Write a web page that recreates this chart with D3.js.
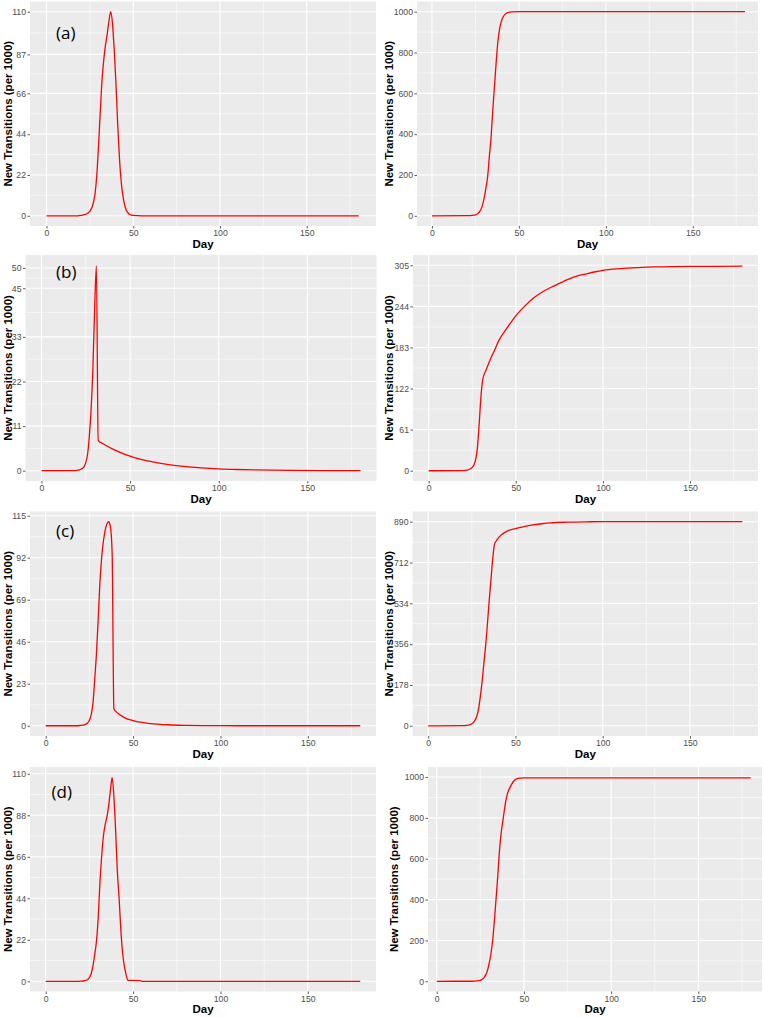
<!DOCTYPE html>
<html>
<head>
<meta charset="utf-8">
<script src="https://cdn.jsdelivr.net/npm/d3@7"></script>
<style>
  html, body { margin: 0; padding: 0; background: #fff; }
  svg { display: block; }
</style>
</head>
<body>
<svg id="chart" width="764" height="1017"></svg>
<script>
// ---------------- DATA ----------------
const xTicks = [0, 50, 100, 150];
const xMinor = [25, 75, 125, 175];
const xTitle = "Day";
const yTitle = "New Transitions (per 1000)";
const panelLabels = ["(a)", "(b)", "(c)", "(d)"];

// (a) new transitions per day
const aNewDays = [0, 18, 20, 22, 24, 25, 26, 27, 28, 29, 30, 31, 32, 33, 34, 35, 36, 37, 38, 39, 40, 41, 42, 43, 44, 45, 46, 47, 48, 50, 55, 180];
const aNewVals = [0, 0, 0.2, 0.6, 1.5, 2.5, 4, 7, 12, 22, 38, 56, 73, 84, 92, 98, 105, 110, 104, 90, 72, 50, 32, 19, 11, 6, 3, 1.5, 0.7, 0.2, 0, 0];
const aNewTicks = [0, 22, 44, 66, 87, 110];
// (a) cumulative
const aCumDays = [0, 20, 22, 24, 25, 26, 27, 28, 29, 30, 31, 32, 33, 34, 35, 36, 37, 38, 39, 40, 41, 42, 43, 44, 46, 50, 180];
const aCumVals = [0, 0.5, 1, 3, 5, 9, 16, 28, 50, 85, 135, 190, 290, 385, 520, 640, 760, 860, 920, 955, 975, 987, 993, 997, 999, 1000, 1000];
const aCumTicks = [0, 200, 400, 600, 800, 1000];

// (b)
const bNewDays = [0, 18, 20, 22, 24, 25, 26, 27, 28, 29, 30, 31, 32, 35, 40, 45, 50, 55, 60, 70, 80, 90, 100, 110, 120, 140, 160, 180];
const bNewVals = [0, 0, 0.1, 0.3, 1, 2, 4, 8.5, 15, 25, 40, 50.5, 7.5, 6.6, 5.4, 4.4, 3.6, 2.9, 2.4, 1.6, 1.05, 0.7, 0.45, 0.3, 0.2, 0.08, 0.03, 0.01];
const bNewTicks = [0, 11, 22, 33, 45, 50];
const bCumDays = [0, 20, 22, 24, 25, 26, 27, 28, 29, 30, 31, 33, 35, 38, 40, 45, 50, 55, 60, 65, 70, 75, 80, 85, 90, 95, 100, 110, 120, 130, 140, 150, 165, 180];
const bCumVals = [0, 0.3, 1, 3, 5, 9, 17, 35, 70, 110, 135, 150, 163, 180, 192, 212, 230, 244, 256, 265, 272, 278, 284, 289, 292, 295, 297.5, 300, 301.5, 302.5, 303, 303.3, 303.5, 303.6];
const bCumTicks = [0, 61, 122, 183, 244, 305];

// (c)
const cNewDays = [0, 18, 20, 22, 24, 25, 26, 27, 28, 29, 30, 31, 32, 33, 34, 35, 36, 37, 38, 39, 40, 42, 45, 50, 55, 60, 70, 80, 90, 100, 120, 180];
const cNewVals = [0, 0, 0.2, 0.5, 1.5, 3, 6, 12, 25, 39, 58, 78, 92, 101, 107, 110.5, 111.7, 109, 95, 9.3, 8, 6.3, 4.5, 2.8, 1.8, 1.2, 0.55, 0.25, 0.1, 0.05, 0.01, 0];
const cNewTicks = [0, 23, 46, 69, 92, 115];
const cCumDays = [0, 20, 22, 24, 25, 26, 27, 28, 29, 30, 31, 32, 33, 34, 35, 36, 37, 38, 39, 40, 42, 45, 50, 55, 60, 65, 70, 80, 90, 100, 180];
const cCumVals = [0, 0.5, 1.5, 5, 9, 15, 27, 45, 80, 135, 200, 280, 356, 450, 550, 640, 730, 792, 806, 817, 833, 848, 860, 869, 876, 881, 885, 888, 889.5, 890, 890];
const cCumTicks = [0, 178, 356, 534, 712, 890];

// (d)
const dNewDays = [0, 18, 20, 22, 24, 25, 26, 27, 28, 29, 30, 31, 32, 33, 34, 35, 36, 37, 38, 39, 40, 41, 42, 43, 44, 45, 46, 47, 50, 54, 55, 180];
const dNewVals = [0, 0, 0.1, 0.3, 1, 2, 4, 8, 14, 21, 33, 52, 66, 77, 83, 87, 93, 101, 108, 98, 80, 58, 44, 27, 15, 8, 3.5, 0.5, 0.5, 0.4, 0, 0];
const dNewTicks = [0, 22, 44, 66, 88, 110];
const dCumDays = [0, 20, 22, 24, 25, 26, 27, 28, 29, 30, 31, 32, 33, 34, 35, 36, 37, 38, 39, 40, 41, 42, 43, 44, 45, 46, 48, 50, 180];
const dCumVals = [0, 0.3, 1, 3, 5, 9, 17, 30, 50, 85, 130, 195, 290, 400, 515, 640, 730, 790, 850, 900, 930, 948, 965, 978, 987, 992, 995, 996, 996];
const dCumTicks = [0, 200, 400, 600, 800, 1000];

// ---------------- LAYOUT ----------------
const panels = [
  { days: aNewDays, vals: aNewVals, ticks: aNewTicks, xr: [30, 376],    yr: [1.5, 226],   xd: [-9.5, 189.9], yd: [-5.5, 115.5],   tx: 12,    lab: 0, lp: [56, 39] },
  { days: aCumDays, vals: aCumVals, ticks: aCumTicks, xr: [417, 758],   yr: [1.5, 226],   xd: [-8.6, 187.5], yd: [-50, 1050],     tx: 393 },
  { days: bNewDays, vals: bNewVals, ticks: bNewTicks, xr: [25.5, 376.5],yr: [255, 481],   xd: [-9, 189],     yd: [-2.54, 53.2],   tx: 12,    lab: 1, lp: [56, 278] },
  { days: bCumDays, vals: bCumVals, ticks: bCumTicks, xr: [413, 758],   yr: [255, 481],   xd: [-9, 189],     yd: [-15.25, 320.25],tx: 393 },
  { days: cNewDays, vals: cNewVals, ticks: cNewTicks, xr: [30, 376],    yr: [511.5, 736], xd: [-9, 189],     yd: [-5.6, 117.3],   tx: 12,    lab: 2, lp: [56, 536.5] },
  { days: cCumDays, vals: cCumVals, ticks: cCumTicks, xr: [412.5, 758], yr: [511.5, 736], xd: [-9, 189],     yd: [-44.5, 934.5],  tx: 393 },
  { days: dNewDays, vals: dNewVals, ticks: dNewTicks, xr: [30, 376],    yr: [767, 991.5], xd: [-9, 189],     yd: [-5.4, 113.6],   tx: 12,    lab: 3, lp: [51.5, 798] },
  { days: dCumDays, vals: dCumVals, ticks: dCumTicks, xr: [428, 762],   yr: [767, 991.5], xd: [-5, 186.5],   yd: [-50, 1049],     tx: 398 }
];

const svg = d3.select("#chart");
svg.append("rect").attr("width", 764).attr("height", 1017).attr("fill", "#ffffff");

const AX_FONT = "'Liberation Sans', Arial, sans-serif";

panels.forEach((p, i) => {
  const x = d3.scaleLinear().domain(p.xd).range(p.xr);
  const y = d3.scaleLinear().domain(p.yd).range([p.yr[1], p.yr[0]]);
  const g = svg.append("g");

  // panel background
  g.append("rect")
    .attr("x", p.xr[0]).attr("y", p.yr[0])
    .attr("width", p.xr[1] - p.xr[0]).attr("height", p.yr[1] - p.yr[0])
    .attr("fill", "#EBEBEB");

  // minor grid
  const yMinor = d3.pairs(p.ticks).map(([a, b]) => (a + b) / 2);
  g.selectAll(".ymin").data(yMinor).enter().append("line")
    .attr("x1", p.xr[0]).attr("x2", p.xr[1])
    .attr("y1", d => y(d)).attr("y2", d => y(d))
    .attr("stroke", "#fff").attr("stroke-width", 0.55);
  g.selectAll(".xmin").data(xMinor).enter().append("line")
    .attr("y1", p.yr[0]).attr("y2", p.yr[1])
    .attr("x1", d => x(d)).attr("x2", d => x(d))
    .attr("stroke", "#fff").attr("stroke-width", 0.55);
  // major grid
  g.selectAll(".ymaj").data(p.ticks).enter().append("line")
    .attr("x1", p.xr[0]).attr("x2", p.xr[1])
    .attr("y1", d => y(d)).attr("y2", d => y(d))
    .attr("stroke", "#fff").attr("stroke-width", 1.1);
  g.selectAll(".xmaj").data(xTicks).enter().append("line")
    .attr("y1", p.yr[0]).attr("y2", p.yr[1])
    .attr("x1", d => x(d)).attr("x2", d => x(d))
    .attr("stroke", "#fff").attr("stroke-width", 1.1);

  // axes
  const yAxis = d3.axisLeft(y).tickValues(p.ticks).tickSize(2.5).tickPadding(1.5).tickFormat(d => String(d));
  const ya = g.append("g").attr("transform", `translate(${p.xr[0]},0)`).call(yAxis);
  ya.select(".domain").remove();
  ya.selectAll("line").attr("stroke", "#333333").attr("stroke-width", 0.8);
  ya.selectAll("text").attr("fill", "#4D4D4D").style("font-family", AX_FONT).style("font-size", "8.7px");

  const xAxis = d3.axisBottom(x).tickValues(xTicks).tickSize(2.5).tickPadding(1.5).tickFormat(d => String(d));
  const xa = g.append("g").attr("transform", `translate(0,${p.yr[1]})`).call(xAxis);
  xa.select(".domain").remove();
  xa.selectAll("line").attr("stroke", "#333333").attr("stroke-width", 0.8);
  xa.selectAll("text").attr("fill", "#4D4D4D").style("font-family", AX_FONT).style("font-size", "8.7px");

  // axis titles
  g.append("text")
    .attr("x", (p.xr[0] + p.xr[1]) / 2).attr("y", p.yr[1] + 21.5)
    .attr("text-anchor", "middle")
    .style("font-family", AX_FONT).style("font-weight", "bold").style("font-size", "11.5px")
    .attr("fill", "#000").text(xTitle);
  g.append("text")
    .attr("transform", `translate(${p.tx},${(p.yr[0] + p.yr[1]) / 2}) rotate(-90)`)
    .attr("text-anchor", "middle")
    .style("font-family", AX_FONT).style("font-weight", "bold").style("font-size", "11.5px")
    .attr("fill", "#000").text(yTitle);

  // line
  const pts = p.days.map((d, k) => [d, p.vals[k]]);
  const line = d3.line().x(d => x(d[0])).y(d => y(d[1])).curve(d3.curveMonotoneX);
  g.append("path").datum(pts)
    .attr("d", line)
    .attr("fill", "none").attr("stroke", "#FF0000").attr("stroke-width", 1.3)
    .attr("stroke-linejoin", "round");

  // panel label
  if (p.lab !== undefined) {
    g.append("text")
      .attr("x", p.lp[0]).attr("y", p.lp[1])
      .style("font-family", "'Open Sans', 'Noto Sans', sans-serif").style("font-size", "17px")
      .attr("fill", "#000").text(panelLabels[p.lab]);
  }
});
</script>
</body>
</html>
